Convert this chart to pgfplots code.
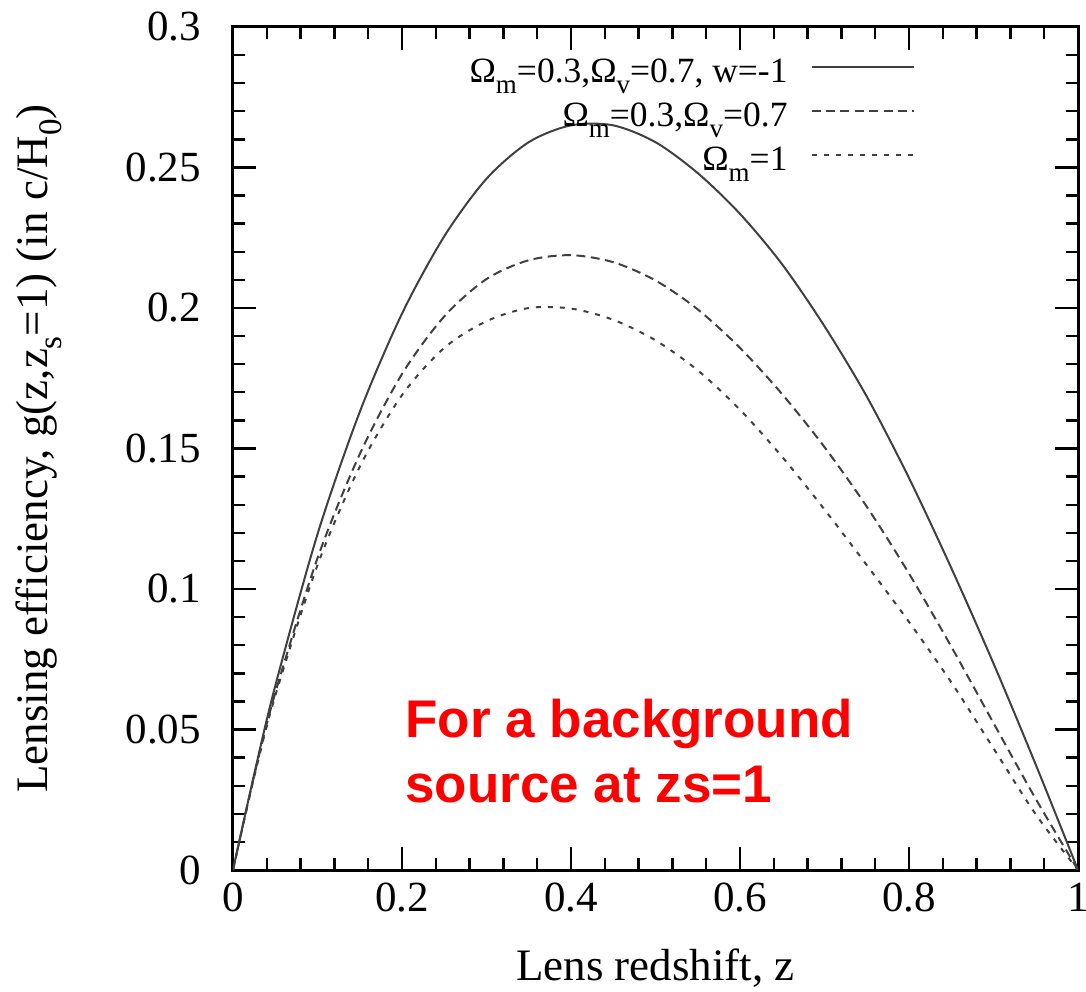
\documentclass[border=0pt]{standalone}
\usepackage{fontspec}
\setmainfont{Liberation Serif}
\newfontfamily\arialfont{Liberation Sans}
\usepackage{pgfplots}
\pgfplotsset{compat=1.18}
\newcommand{\sub}[1]{\raisebox{-0.32em}{\fontsize{13.5}{13.5}\selectfont #1}}
\newcommand{\subl}[1]{\raisebox{-0.32em}{\fontsize{16.5}{16.5}\selectfont #1}}
\definecolor{curve}{gray}{0.25}

\pgfplotstableread{
z g
0 0
0.025 0.034
0.05 0.0655
0.1 0.1195
0.15 0.163
0.2 0.198
0.25 0.2255
0.3 0.246
0.35 0.2590
0.4 0.2650
0.45 0.2650
0.5 0.2590
0.55 0.2480
0.6 0.2335
0.65 0.2155
0.7 0.1935
0.75 0.1685
0.8 0.1395
0.85 0.1075
0.9 0.0735
0.95 0.0375
1.0 0
}\lcdmw

\pgfplotstableread{
z g
0 0
0.025 0.0335
0.05 0.063
0.1 0.111
0.15 0.148
0.2 0.1765
0.25 0.197
0.3 0.2103
0.35 0.217
0.4 0.2188
0.45 0.2163
0.5 0.2098
0.55 0.1995
0.6 0.1858
0.65 0.1693
0.7 0.1505
0.75 0.1293
0.8 0.1055
0.85 0.0795
0.9 0.0523
0.95 0.0253
1.0 0
}\lcdm

\pgfplotstableread{
z g
0 0
0.025 0.033
0.05 0.062
0.1 0.1085
0.15 0.1435
0.2 0.169
0.25 0.1858
0.3 0.1953
0.35 0.2000
0.4 0.1998
0.45 0.1958
0.5 0.1885
0.55 0.1778
0.6 0.1638
0.65 0.147
0.7 0.1283
0.75 0.1085
0.8 0.0883
0.85 0.0668
0.9 0.0433
0.95 0.0198
1.0 0
}\eds

\begin{document}
\begin{tikzpicture}
\begin{axis}[name=ax, scale only axis, width=422.5pt, height=421.5pt,
  xmin=0, xmax=1, ymin=0, ymax=0.3,
  xtick={0,0.2,0.4,0.6,0.8,1},
  ytick={0,0.05,0.1,0.15,0.2,0.25,0.3},
  minor x tick num=4, minor y tick num=4,
  tick align=inside, tick pos=both,
  major tick length=11.5pt, minor tick length=6pt,
  axis line style={line width=1.5pt},
  every tick/.style={line width=1.2pt, black},
  /pgf/number format/assume math mode=true,
  /pgf/number format/fixed, /pgf/number format/precision=2,
  scaled y ticks=false, scaled x ticks=false,
  ticklabel style={font=\fontsize{21.5}{25}\selectfont},
  yticklabel style={xshift=-12.5pt},
  xticklabel style={yshift=-3pt},
  every axis x label/.style={at={(axis description cs:0.5,-0.1305)}, anchor=base, font=\fontsize{22.5}{27}\selectfont},
  every axis y label/.style={at={(axis description cs:-0.220,0.5)}, anchor=base, rotate=90, font=\fontsize{22.5}{27}\selectfont},
  xlabel={Lens redshift, z},
  ylabel={Lensing efficiency, g(z,z\subl{s}=1) (in c/H\subl{0})},
  legend style={at={(axis cs:0.807,0.2897)}, anchor=north east, draw=none, fill=none,
    row sep=0pt, inner sep=0pt, column sep=11.5pt,
    nodes={inner sep=0pt, text height=13pt, text depth=9pt, font=\fontsize{17.75}{21}\selectfont}},
  legend cell align=right, legend plot pos=right,
  legend image code/.code={\draw[#1] (0pt,5.5pt) -- (51pt,5.5pt);},
]
\addplot[curve, line width=1pt, smooth] table[x=z,y=g] {\lcdmw};
\addlegendentry{Ω\sub{m}=0.3,Ω\sub{v}=0.7, w=-1}
\addplot[curve, line width=1pt, smooth, dash pattern=on 4.5pt off 2.7pt] table[x=z,y=g] {\lcdm};
\addlegendentry{Ω\sub{m}=0.3,Ω\sub{v}=0.7}
\addplot[curve, line width=1pt, smooth, dash pattern=on 2.5pt off 3.5pt] table[x=z,y=g] {\eds};
\addlegendentry{Ω\sub{m}=1}
\node[anchor=base west, inner sep=0pt, text=red, font={\fontsize{26.5}{31}\arialfont\bfseries\selectfont}] at (axis cs:0.2036,0.0473) {For a background};
\node[anchor=base west, inner sep=0pt, text=red, font={\fontsize{26.5}{31}\arialfont\bfseries\selectfont}] at (axis cs:0.2036,0.0242) {source at zs=1};
\end{axis}
\pgfresetboundingbox
\path ([xshift=-116.5pt,yshift=-60.5pt]ax.south west) rectangle ([xshift=4pt,yshift=13.5pt]ax.north east);
\end{tikzpicture}
\end{document}
